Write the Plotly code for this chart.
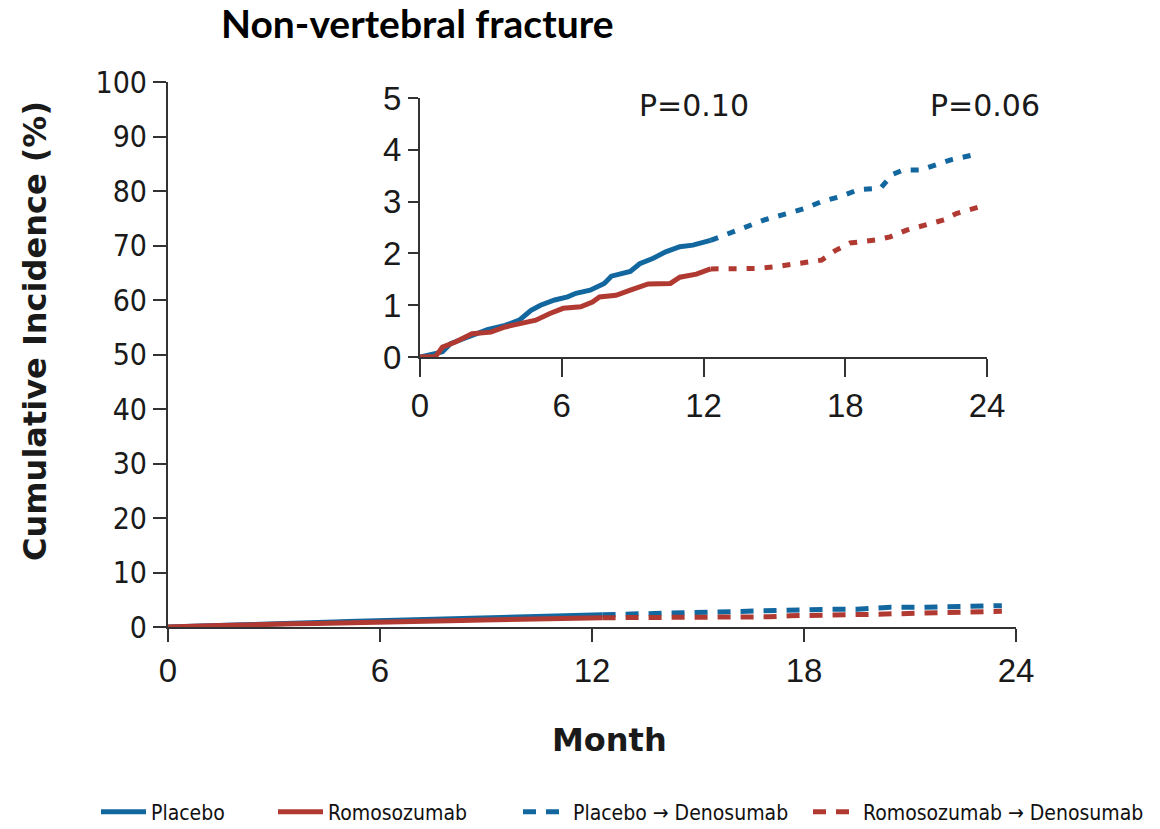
import plotly.graph_objects as go

# Cumulative incidence (%) of non-vertebral fracture by month
placebo_month = [0, 0.95, 1.3, 2.1, 2.85, 3.6, 4.2, 4.7, 5.1, 5.7, 6.25, 6.6, 7.2, 7.8, 8.1,
                 8.9, 9.3, 9.85, 10.4, 11.0, 11.55, 12.3]
placebo_inc = [0, 0.10, 0.26, 0.39, 0.53, 0.61, 0.71, 0.90, 1.00, 1.10, 1.16, 1.23, 1.29, 1.42,
               1.56, 1.65, 1.80, 1.90, 2.03, 2.13, 2.16, 2.25]

romo_month = [0, 0.66, 0.95, 1.5, 2.2, 3.0, 3.6, 4.2, 4.9, 5.5, 6.06, 6.8, 7.3, 7.6, 8.3,
              8.9, 9.66, 10.6, 11.0, 11.7, 12.3]
romo_inc = [0, 0.01, 0.19, 0.29, 0.45, 0.48, 0.58, 0.65, 0.71, 0.84, 0.94, 0.97, 1.06, 1.16,
            1.19, 1.29, 1.41, 1.42, 1.54, 1.60, 1.70]

pla_deno_month = [12.3, 13.25, 13.8, 14.6, 15.3, 16.3, 17.0, 17.8, 18.56, 19.5, 19.98, 20.45,
                  21.2, 21.8, 22.5, 23.6]
pla_deno_inc = [2.25, 2.42, 2.52, 2.65, 2.74, 2.87, 3.00, 3.10, 3.23, 3.26, 3.52, 3.61,
                3.61, 3.71, 3.81, 3.92]

romo_deno_month = [12.3, 14.2, 15.0, 16.3, 17.0, 17.6, 18.2, 19.3, 19.9, 20.6, 21.4, 22.2,
                   22.7, 23.6]
romo_deno_inc = [1.70, 1.71, 1.74, 1.82, 1.87, 2.06, 2.20, 2.26, 2.32, 2.45, 2.55, 2.65,
                 2.77, 2.89]

month_ticks = [0, 6, 12, 18, 24]
main_y_ticks = list(range(0, 101, 10))
inset_y_ticks = [0, 1, 2, 3, 4, 5]
p_values = ["P=0.10", "P=0.06"]
p_value_months = [11.6, 23.9]

series_names = ["Placebo", "Romosozumab", "Placebo \u2192 Denosumab", "Romosozumab \u2192 Denosumab"]

BLUE = "#13679f"
RED = "#b03a32"
AXIS = "#333333"
W, H = 1160, 829

series = [
    (placebo_month, placebo_inc, BLUE, "solid"),
    (romo_month, romo_inc, RED, "solid"),
    (pla_deno_month, pla_deno_inc, BLUE, "dash"),
    (romo_deno_month, romo_deno_inc, RED, "dash"),
]

fig = go.Figure()

# Main panel (0-100 %) with the legend entries
for i, (mx, my, col, style) in enumerate(series):
    dash = "solid" if style == "solid" else "13px,10px"
    fig.add_trace(go.Scatter(
        x=mx, y=my, mode="lines", name=series_names[i],
        line=dict(color=col, width=5, dash=dash),
        xaxis="x", yaxis="y", showlegend=True,
        legend="legend" if i == 0 else f"legend{i + 1}",
    ))

# Inset panel (0-5 %)
for i, (mx, my, col, style) in enumerate(series):
    dash = "solid" if style == "solid" else "8px,10px"
    fig.add_trace(go.Scatter(
        x=mx, y=my, mode="lines", name=series_names[i],
        line=dict(color=col, width=5, dash=dash),
        xaxis="x2", yaxis="y2", showlegend=False,
    ))


def px_x(p):
    return p / W


def px_y(p):
    return 1 - p / H


axis_common = dict(showline=True, linecolor=AXIS, linewidth=2, ticks="outside",
                   tickcolor=AXIS, tickwidth=2, showgrid=False, zeroline=False,
                   automargin=False)

legend_font = dict(family="DejaVu Sans Condensed", size=21, color="#111111")
legend_x = [96, 273, 518, 808]
legends = {}
for i, lx in enumerate(legend_x):
    key = "legend" if i == 0 else f"legend{i + 1}"
    legends[key] = dict(x=px_x(lx), y=px_y(812), xanchor="left", yanchor="middle",
                        orientation="h", font=legend_font, bgcolor="rgba(0,0,0,0)",
                        borderwidth=0, itemwidth=45)

fig.update_layout(
    width=W, height=H,
    margin=dict(l=0, r=0, t=0, b=0, autoexpand=False),
    paper_bgcolor="white", plot_bgcolor="rgba(0,0,0,0)",
    xaxis=dict(domain=[px_x(168), px_x(1016)], range=[0, 24], tickvals=month_ticks,
               ticklen=13, anchor="y",
               tickfont=dict(family="Liberation Sans", size=33, color="#1a1a1a"),
               **axis_common),
    yaxis=dict(domain=[px_y(627), px_y(82)], range=[0, 100], tickvals=main_y_ticks,
               ticklen=13, anchor="x",
               tickfont=dict(family="DejaVu Sans Condensed", size=30, color="#1a1a1a"),
               **axis_common),
    xaxis2=dict(domain=[px_x(420), px_x(987)], range=[0, 24], tickvals=month_ticks,
                ticklen=18, anchor="y2",
                tickfont=dict(family="Liberation Sans", size=33, color="#1a1a1a"),
                **axis_common),
    yaxis2=dict(domain=[px_y(357), px_y(98)], range=[0, 5], tickvals=inset_y_ticks,
                ticklen=10, anchor="x2",
                tickfont=dict(family="Liberation Sans", size=33, color="#1a1a1a"),
                **axis_common),
    **legends,
)

# Chart heading
fig.add_annotation(text="<b>Non-vertebral fracture</b>", xref="paper", yref="paper",
                   x=px_x(219), y=px_y(23), xanchor="left", yanchor="middle",
                   showarrow=False, font=dict(family="Lato", size=39, color="#000000"))

# Axis titles
fig.add_annotation(text="<b>Month</b>", xref="paper", yref="paper",
                   x=px_x(609), y=px_y(740), xanchor="center", yanchor="middle",
                   showarrow=False, font=dict(family="DejaVu Sans", size=32, color="#1a1a1a"))
fig.add_annotation(text="<b>Cumulative Incidence (%)</b>", xref="paper", yref="paper",
                   x=px_x(35), y=px_y(331), xanchor="center", yanchor="middle", textangle=-90,
                   showarrow=False, font=dict(family="DejaVu Sans", size=32, color="#1a1a1a"))

# P-values in the inset
for txt, m in zip(p_values, p_value_months):
    fig.add_annotation(text=txt, xref="x2", yref="y2", x=m, y=4.86,
                       xanchor="center", yanchor="middle", showarrow=False,
                       font=dict(family="DejaVu Sans", size=30, color="#1a1a1a"))

fig.write_html("out.html")
